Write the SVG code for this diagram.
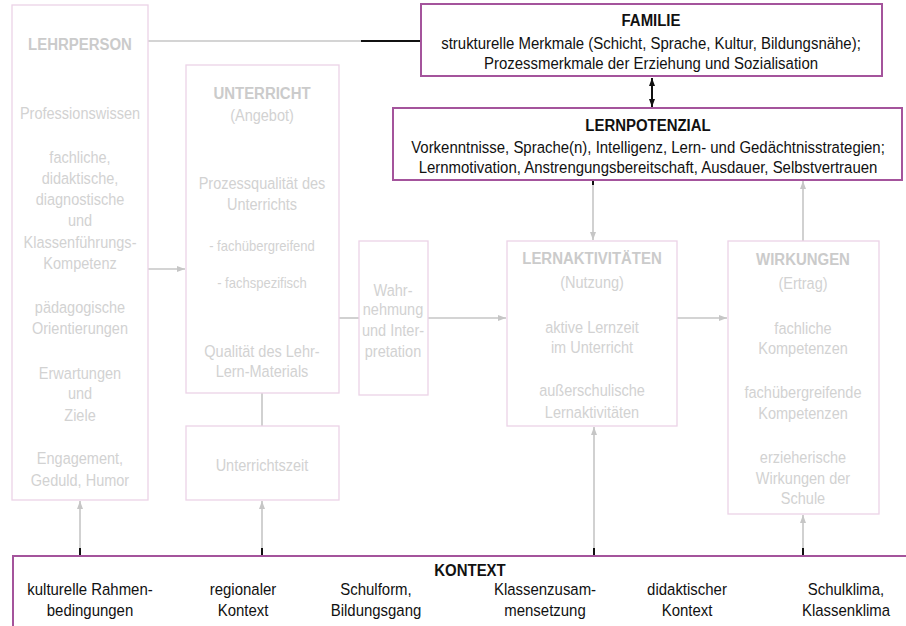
<svg xmlns="http://www.w3.org/2000/svg" width="906" height="626" viewBox="0 0 906 626">
<defs>
<style>
.bx{fill:#ffffff;stroke:#ecd3e7;stroke-width:1.3}
.bp{fill:#ffffff;stroke:#a4549c;stroke-width:2}
text{font-family:"Liberation Sans",Arial,sans-serif;text-anchor:middle}
.g{font-size:16.5px;fill:#d2d2d2}
.gs{font-size:14.8px;fill:#d2d2d2}
.gt{font-size:17px;font-weight:bold;fill:#cbcbcb}
.d{font-size:17px;fill:#111111}
.dt{font-size:17px;font-weight:bold;fill:#111111}
.ln{fill:none;stroke:#c6c6c6;stroke-width:1.6}
.lk{fill:none;stroke:#111111;stroke-width:2}
</style>
<marker id="ag" viewBox="0 0 8 6" markerWidth="8" markerHeight="6" refX="8" refY="3" orient="auto" markerUnits="userSpaceOnUse">
<path d="M0,0 L8,3 L0,6 z" fill="#c6c6c6"/>
</marker>
<marker id="ak" viewBox="0 0 8 6" markerWidth="8" markerHeight="6" refX="8" refY="3" orient="auto-start-reverse" markerUnits="userSpaceOnUse">
<path d="M0,0 L8,3 L0,6 z" fill="#111111"/>
</marker>
</defs>
<rect width="906" height="626" fill="#ffffff"/>

<g id="connectors">
<line class="ln" x1="148" y1="41" x2="362" y2="41"/>
<line class="lk" x1="361" y1="41" x2="421" y2="41"/>
<line class="ln" x1="148" y1="269" x2="185" y2="269" marker-end="url(#ag)"/>
<line class="ln" x1="339" y1="318" x2="359" y2="318"/>
<line class="ln" x1="428" y1="318" x2="506" y2="318" marker-end="url(#ag)"/>
<line class="ln" x1="677" y1="318" x2="727" y2="318" marker-end="url(#ag)"/>
<line class="ln" x1="262" y1="393" x2="262" y2="426"/>
<line class="lk" x1="652" y1="78" x2="652" y2="107" marker-start="url(#ak)" marker-end="url(#ak)" stroke-width="1.8"/>
<line class="ln" x1="593" y1="181" x2="593" y2="240" marker-end="url(#ag)"/>
<line class="lk" x1="593" y1="181" x2="593" y2="185"/>
<line class="ln" x1="803" y1="241" x2="803" y2="181" marker-end="url(#ag)"/>
<line class="ln" x1="80" y1="555" x2="80" y2="501" marker-end="url(#ag)"/>
<line class="ln" x1="262" y1="555" x2="262" y2="501" marker-end="url(#ag)"/>
<line class="ln" x1="594" y1="555" x2="594" y2="427" marker-end="url(#ag)"/>
<line class="ln" x1="803" y1="555" x2="803" y2="515" marker-end="url(#ag)"/>
<line class="lk" x1="80" y1="548" x2="80" y2="556"/>
<line class="lk" x1="262" y1="548" x2="262" y2="556"/>
<line class="lk" x1="594" y1="548" x2="594" y2="556"/>
<line class="lk" x1="803" y1="548" x2="803" y2="556"/>
</g>

<g id="lehrperson">
<rect class="bx" x="12" y="5" width="136" height="495"/>
<g transform="translate(80 0) scale(0.88 1)">
<text class="gt" x="0" y="50">LEHRPERSON</text>
<text class="g" x="0" y="119">Professionswissen</text>
<text class="g" x="0" y="163">fachliche,</text>
<text class="g" x="0" y="184">didaktische,</text>
<text class="g" x="0" y="205">diagnostische</text>
<text class="g" x="0" y="226">und</text>
<text class="g" x="0" y="248">Klassenführungs-</text>
<text class="g" x="0" y="269">Kompetenz</text>
<text class="g" x="0" y="313">pädagogische</text>
<text class="g" x="0" y="334">Orientierungen</text>
<text class="g" x="0" y="379">Erwartungen</text>
<text class="g" x="0" y="399">und</text>
<text class="g" x="0" y="421">Ziele</text>
<text class="g" x="0" y="464">Engagement,</text>
<text class="g" x="0" y="486">Geduld, Humor</text>
</g>
</g>

<g id="unterricht">
<rect class="bx" x="186" y="65" width="153" height="328"/>
<g transform="translate(262 0) scale(0.88 1)">
<text class="gt" x="0" y="99">UNTERRICHT</text>
<text class="g" x="0" y="121">(Angebot)</text>
<text class="g" x="0" y="189">Prozessqualität des</text>
<text class="g" x="0" y="210">Unterrichts</text>
<text class="gs" x="0" y="251">- fachübergreifend</text>
<text class="gs" x="0" y="288">- fachspezifisch</text>
<text class="g" x="0" y="357">Qualität des Lehr-</text>
<text class="g" x="0" y="377">Lern-Materials</text>
</g>
</g>

<g id="unterrichtszeit">
<rect class="bx" x="186" y="426" width="153" height="74"/>
<text class="g" transform="translate(262 0) scale(0.88 1)" x="0" y="471">Unterrichtszeit</text>
</g>

<g id="wahrnehmung">
<rect class="bx" x="359" y="241" width="69" height="154"/>
<g transform="translate(393 0) scale(0.88 1)">
<text class="g" x="0" y="296">Wahr-</text>
<text class="g" x="0" y="315">nehmung</text>
<text class="g" x="0" y="336">und Inter-</text>
<text class="g" x="0" y="357">pretation</text>
</g>
</g>

<g id="lernaktivitaeten">
<rect class="bx" x="507" y="241" width="170" height="185"/>
<g transform="translate(592 0) scale(0.88 1)">
<text class="gt" x="0" y="264">LERNAKTIVITÄTEN</text>
<text class="g" x="0" y="288">(Nutzung)</text>
<text class="g" x="0" y="333">aktive Lernzeit</text>
<text class="g" x="0" y="353">im Unterricht</text>
<text class="g" x="0" y="396">außerschulische</text>
<text class="g" x="0" y="418">Lernaktivitäten</text>
</g>
</g>

<g id="wirkungen">
<rect class="bx" x="728" y="241" width="151" height="273"/>
<g transform="translate(803 0) scale(0.88 1)">
<text class="gt" x="0" y="265">WIRKUNGEN</text>
<text class="g" x="0" y="289">(Ertrag)</text>
<text class="g" x="0" y="334">fachliche</text>
<text class="g" x="0" y="354">Kompetenzen</text>
<text class="g" x="0" y="398">fachübergreifende</text>
<text class="g" x="0" y="419">Kompetenzen</text>
<text class="g" x="0" y="463">erzieherische</text>
<text class="g" x="0" y="484">Wirkungen der</text>
<text class="g" x="0" y="504">Schule</text>
</g>
</g>

<g id="familie">
<rect class="bp" x="421" y="4" width="461" height="72"/>
<g transform="translate(651 0) scale(0.88 1)">
<text class="dt" x="0" y="26">FAMILIE</text>
<text class="d" x="0" y="49">strukturelle Merkmale (Schicht, Sprache, Kultur, Bildungsnähe);</text>
<text class="d" x="0" y="69">Prozessmerkmale der Erziehung und Sozialisation</text>
</g>
</g>

<g id="lernpotenzial">
<rect class="bp" x="393" y="108" width="509" height="72"/>
<g transform="translate(648 0) scale(0.88 1)">
<text class="dt" x="0" y="131">LERNPOTENZIAL</text>
<text class="d" x="0" y="153">Vorkenntnisse, Sprache(n), Intelligenz, Lern- und Gedächtnisstrategien;</text>
<text class="d" x="0" y="173">Lernmotivation, Anstrengungsbereitschaft, Ausdauer, Selbstvertrauen</text>
</g>
</g>

<g id="kontext">
<rect class="bp" x="13" y="556" width="900" height="80"/>
<text class="dt" transform="translate(470 0) scale(0.88 1)" x="0" y="576">KONTEXT</text>
<text class="d" transform="translate(90 0) scale(0.88 1)" x="0" y="595">kulturelle Rahmen-</text>
<text class="d" transform="translate(90 0) scale(0.88 1)" x="0" y="616">bedingungen</text>
<text class="d" transform="translate(243 0) scale(0.88 1)" x="0" y="595">regionaler</text>
<text class="d" transform="translate(243 0) scale(0.88 1)" x="0" y="616">Kontext</text>
<text class="d" transform="translate(376 0) scale(0.88 1)" x="0" y="595">Schulform,</text>
<text class="d" transform="translate(376 0) scale(0.88 1)" x="0" y="616">Bildungsgang</text>
<text class="d" transform="translate(545 0) scale(0.88 1)" x="0" y="595">Klassenzusam-</text>
<text class="d" transform="translate(545 0) scale(0.88 1)" x="0" y="616">mensetzung</text>
<text class="d" transform="translate(687 0) scale(0.88 1)" x="0" y="595">didaktischer</text>
<text class="d" transform="translate(687 0) scale(0.88 1)" x="0" y="616">Kontext</text>
<text class="d" transform="translate(846 0) scale(0.88 1)" x="0" y="595">Schulklima,</text>
<text class="d" transform="translate(846 0) scale(0.88 1)" x="0" y="616">Klassenklima</text>
</g>
</svg>
